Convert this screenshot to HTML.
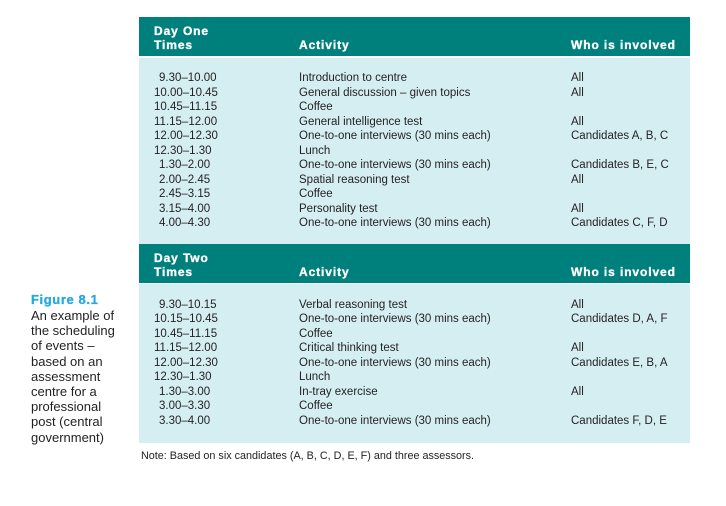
<!DOCTYPE html>
<html>
<head>
<meta charset="utf-8">
<style>
  html,body{margin:0;padding:0;background:#fff;}
  body{width:726px;height:506px;position:relative;overflow:hidden;font-family:"Liberation Sans",Arial,sans-serif;color:#231f20;}
  .abs{position:absolute;}
  .teal{background:#00807d;}
  .lb{background:#d5eef2;}
  .hd{position:absolute;color:#fff;font-weight:bold;font-size:12px;line-height:13.4px;letter-spacing:0.9px;-webkit-text-stroke:0.35px #fff;white-space:nowrap;}
  .row{position:absolute;font-size:11.5px;line-height:14.5px;white-space:nowrap;height:14.5px;}
  .cap{position:absolute;left:31px;font-size:13px;line-height:15.2px;white-space:nowrap;}
</style>
</head>
<body>
<!-- Day One -->
<div class="abs teal" style="left:139px;top:17px;width:551px;height:38.5px;"></div>
<div class="abs lb" style="left:139px;top:57.7px;width:551px;height:186.3px;"></div>
<div class="hd" style="left:154px;top:25.1px;">Day One<br>Times</div>
<div class="hd" style="left:299px;top:38.5px;">Activity</div>
<div class="hd" style="left:571px;top:38.5px;">Who is involved</div>

<div class="row" style="top:71px;left:159px;">9.30–10.00</div>
<div class="row" style="top:85.5px;left:154px;">10.00–10.45</div>
<div class="row" style="top:100px;left:154px;">10.45–11.15</div>
<div class="row" style="top:114.5px;left:154px;">11.15–12.00</div>
<div class="row" style="top:129px;left:154px;">12.00–12.30</div>
<div class="row" style="top:143.5px;left:154px;">12.30–1.30</div>
<div class="row" style="top:158px;left:159px;">1.30–2.00</div>
<div class="row" style="top:172.5px;left:159px;">2.00–2.45</div>
<div class="row" style="top:187px;left:159px;">2.45–3.15</div>
<div class="row" style="top:201.5px;left:159px;">3.15–4.00</div>
<div class="row" style="top:216px;left:159px;">4.00–4.30</div>

<div class="row" style="top:71px;left:299px;">Introduction to centre</div>
<div class="row" style="top:85.5px;left:299px;">General discussion – given topics</div>
<div class="row" style="top:100px;left:299px;">Coffee</div>
<div class="row" style="top:114.5px;left:299px;">General intelligence test</div>
<div class="row" style="top:129px;left:299px;">One-to-one interviews (30 mins each)</div>
<div class="row" style="top:143.5px;left:299px;">Lunch</div>
<div class="row" style="top:158px;left:299px;">One-to-one interviews (30 mins each)</div>
<div class="row" style="top:172.5px;left:299px;">Spatial reasoning test</div>
<div class="row" style="top:187px;left:299px;">Coffee</div>
<div class="row" style="top:201.5px;left:299px;">Personality test</div>
<div class="row" style="top:216px;left:299px;">One-to-one interviews (30 mins each)</div>

<div class="row" style="top:71px;left:571px;">All</div>
<div class="row" style="top:85.5px;left:571px;">All</div>
<div class="row" style="top:114.5px;left:571px;">All</div>
<div class="row" style="top:129px;left:571px;">Candidates A, B, C</div>
<div class="row" style="top:158px;left:571px;">Candidates B, E, C</div>
<div class="row" style="top:172.5px;left:571px;">All</div>
<div class="row" style="top:201.5px;left:571px;">All</div>
<div class="row" style="top:216px;left:571px;">Candidates C, F, D</div>

<!-- Day Two -->
<div class="abs teal" style="left:139px;top:244px;width:551px;height:38.7px;"></div>
<div class="abs lb" style="left:139px;top:284.3px;width:551px;height:158.4px;"></div>
<div class="hd" style="left:154px;top:252.4px;">Day Two<br>Times</div>
<div class="hd" style="left:299px;top:265.8px;">Activity</div>
<div class="hd" style="left:571px;top:265.8px;">Who is involved</div>

<div class="row" style="top:297.5px;left:159px;">9.30–10.15</div>
<div class="row" style="top:312px;left:154px;">10.15–10.45</div>
<div class="row" style="top:326.5px;left:154px;">10.45–11.15</div>
<div class="row" style="top:341px;left:154px;">11.15–12.00</div>
<div class="row" style="top:355.5px;left:154px;">12.00–12.30</div>
<div class="row" style="top:370px;left:154px;">12.30–1.30</div>
<div class="row" style="top:384.5px;left:159px;">1.30–3.00</div>
<div class="row" style="top:399px;left:159px;">3.00–3.30</div>
<div class="row" style="top:413.5px;left:159px;">3.30–4.00</div>

<div class="row" style="top:297.5px;left:299px;">Verbal reasoning test</div>
<div class="row" style="top:312px;left:299px;">One-to-one interviews (30 mins each)</div>
<div class="row" style="top:326.5px;left:299px;">Coffee</div>
<div class="row" style="top:341px;left:299px;">Critical thinking test</div>
<div class="row" style="top:355.5px;left:299px;">One-to-one interviews (30 mins each)</div>
<div class="row" style="top:370px;left:299px;">Lunch</div>
<div class="row" style="top:384.5px;left:299px;">In-tray exercise</div>
<div class="row" style="top:399px;left:299px;">Coffee</div>
<div class="row" style="top:413.5px;left:299px;">One-to-one interviews (30 mins each)</div>

<div class="row" style="top:297.5px;left:571px;">All</div>
<div class="row" style="top:312px;left:571px;">Candidates D, A, F</div>
<div class="row" style="top:341px;left:571px;">All</div>
<div class="row" style="top:355.5px;left:571px;">Candidates E, B, A</div>
<div class="row" style="top:384.5px;left:571px;">All</div>
<div class="row" style="top:413.5px;left:571px;">Candidates F, D, E</div>

<!-- Note -->
<div class="abs" style="left:141px;top:449.8px;font-size:10.8px;line-height:13px;white-space:nowrap;">Note: Based on six candidates (A, B, C, D, E, F) and three assessors.</div>

<!-- Caption -->
<div class="cap" style="top:291.9px;font-weight:bold;color:#25a8de;letter-spacing:0.6px;-webkit-text-stroke:0.3px #25a8de;">Figure 8.1</div>
<div class="cap" style="top:307.9px;">An example of<br>the scheduling<br>of events –<br>based on an<br>assessment<br>centre for a<br>professional<br>post (central<br>government)</div>
</body>
</html>
